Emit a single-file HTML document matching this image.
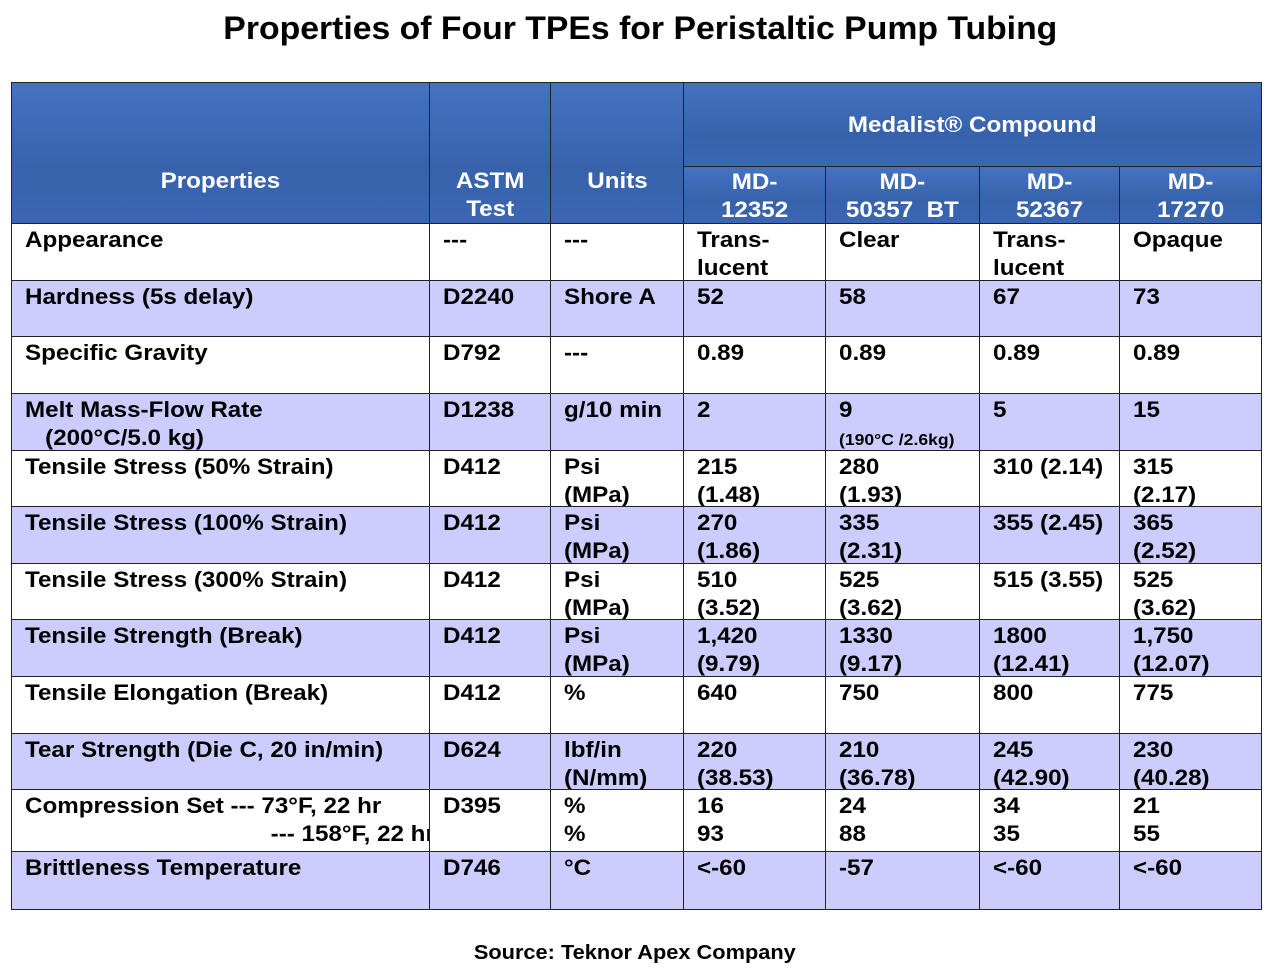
<!DOCTYPE html>
<html><head><meta charset="utf-8">
<style>
body{margin:0;background:#fff;width:1280px;height:975px;position:relative;overflow:hidden;font-family:"Liberation Sans",Arial,sans-serif;font-weight:bold;}
#title{position:absolute;left:0;width:1280px;top:10px;text-align:center;font-size:32px;color:#000;white-space:nowrap}
#title span,#source span{display:inline-block;transform-origin:center}
#source{position:absolute;left:0;width:1270px;top:942px;text-align:center;font-size:20px;white-space:nowrap}
.cell{position:absolute;box-sizing:border-box;border:1.5px solid #222;overflow:visible;white-space:nowrap;font-size:22px;line-height:27.5px;color:#000}
.hd{background:linear-gradient(#4573c2,#3762ab 60%,#3a67b4);color:#fff;text-align:center}
.cell .t{display:inline-block;transform-origin:left top}
.hd .t{transform-origin:center top}
.lav{background:#ccccff}
.wh{background:#fff}
.small{font-size:16px}
</style></head><body>
<div id="title"><span>Properties of Four TPEs for Peristaltic Pump Tubing</span></div>
<div id="tbl"></div>
<div id="source"><span>Source: Teknor Apex Company</span></div>
<script>
const colX=[11,429,550,683,825,979,1119,1260];
const rowY=[223,280,336,393,450,506,563,619,676,733,789,851,908];
const props=["Appearance","Hardness (5s delay)","Specific Gravity","Melt Mass-Flow Rate<br>&nbsp;&nbsp;&nbsp;(200°C/5.0 kg)","Tensile Stress (50% Strain)","Tensile Stress (100% Strain)","Tensile Stress (300% Strain)","Tensile Strength (Break)","Tensile Elongation (Break)","Tear Strength (Die C, 20 in/min)","Compression Set --- 73°F, 22 hr<br><span style='display:inline-block;width:373px;text-align:right'>--- 158°F, 22 hr</span>","Brittleness Temperature"];
const astm=["---","D2240","D792","D1238","D412","D412","D412","D412","D412","D624","D395","D746"];
const units=["---","Shore A","---","g/10 min","Psi<br>(MPa)","Psi<br>(MPa)","Psi<br>(MPa)","Psi<br>(MPa)","%","lbf/in<br>(N/mm)","%<br>%","°C"];
const md12352=["Trans-<br>lucent","52","0.89","2","215<br>(1.48)","270<br>(1.86)","510<br>(3.52)","1,420<br>(9.79)","640","220<br>(38.53)","16<br>93","&lt;-60"];
const md50357=["Clear","58","0.89","9<br><span class='small'>(190°C /2.6kg)</span>","280<br>(1.93)","335<br>(2.31)","525<br>(3.62)","1330<br>(9.17)","750","210<br>(36.78)","24<br>88","-57"];
const md52367=["Trans-<br>lucent","67","0.89","5","310 (2.14)","355 (2.45)","515 (3.55)","1800<br>(12.41)","800","245<br>(42.90)","34<br>35","&lt;-60"];
const md17270=["Opaque","73","0.89","15","315<br>(2.17)","365<br>(2.52)","525<br>(3.62)","1,750<br>(12.07)","775","230<br>(40.28)","21<br>55","&lt;-60"];
const cols=[props,astm,units,md12352,md50357,md52367,md17270];
const colNames=["property","astm-test","units","md-12352","md-50357-bt","md-52367","md-17270"];
const tbl=document.getElementById('tbl');
function mk(x,y,w,h,html,cls,pad,top){
  const d=document.createElement('div');
  d.className='cell '+cls;
  d.style.left=x+'px';d.style.top=y+'px';d.style.width=(w+1.5)+'px';d.style.height=(h+1.5)+'px';
  d.style.paddingLeft=pad+'px';d.style.paddingTop=top+'px';
  d.innerHTML='<span class="t">'+html+'</span>';
  tbl.appendChild(d);return d;
}
// header
let h;
h=mk(11,82,418,141,"Properties","hd",0,84);


h=mk(429,82,121,141,"ASTM<br>Test","hd",0,84);


h=mk(550,82,133,141,"Units","hd",0,84);


h=mk(683,82,577,84,"Medalist® Compound","hd",0,28);


const mdHeads=["MD-<br>12352","MD-<br>50357&nbsp;&nbsp;BT","MD-<br>52367","MD-<br>17270"];
for(let i=0;i<4;i++){
  h=mk(colX[3+i],166,colX[4+i]-colX[3+i],57,mdHeads[i],"hd",0,1);
  
  
}
for(let r=0;r<props.length;r++){
  for(let c=0;c<7;c++){
    const pad=c==0?13:13;
    const d=mk(colX[c],rowY[r],colX[c+1]-colX[c],rowY[r+1]-rowY[r],cols[c][r],(r%2?'lav':'wh'),pad,2);
    
    
  }
}
// scale text horizontally to match the condensed look
const ref=tbl.children[4+4+5*7].querySelector('.t');
const sc=322/ref.getBoundingClientRect().width;
document.querySelectorAll('.cell .t').forEach(s=>s.style.transform='scaleX('+sc+')');
const ts=document.querySelector('#title span');
ts.style.transform='scaleX('+(834/ts.getBoundingClientRect().width)+')';
const ss=document.querySelector('#source span');
ss.style.transform='scaleX('+(322/ss.getBoundingClientRect().width)+')';
</script>
</body></html>
